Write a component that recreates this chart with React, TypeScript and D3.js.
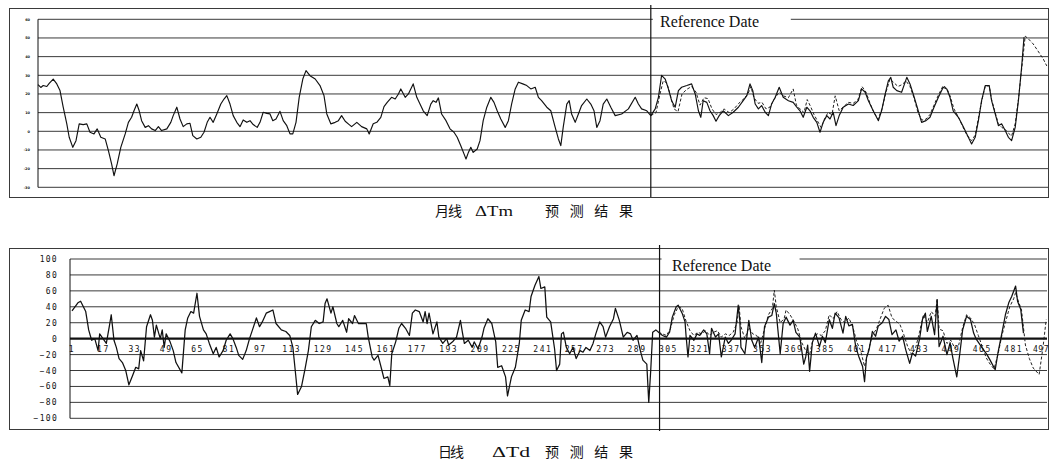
import React from "react";
import * as d3 from "d3";

// ---------- Monthly (ΔTm) ----------
const monthlyTicks = [60, 50, 40, 30, 20, 10, 0, -10, -20, -30];
const monthlyRefIndex = 153.2;
const monthlyActual: [number, number][] = [
  [0, 25], [0.7, 23.5], [1.3, 24.5], [2.2, 24], [2.8, 25.7], [3.8, 28], [4.7, 25.4], [5.5, 21.8], [6.3, 12.9], [7.2, 4],
  [7.8, -3.2], [8.7, -8.6], [9.5, -5], [10.3, 4], [11.3, 3.6], [12.2, 4], [13, -0.5], [14, -1.4], [14.8, 1.3], [15.7, -3.2],
  [16.8, -4.1], [17.6, -10.4], [18.4, -17.5], [19, -23.8], [19.8, -17.5], [20.7, -8.6], [21.8, -1.4], [22.6, 4.8], [23.4, 7.5], [24, 11],
  [24.7, 14.6], [25.3, 11], [25.9, 5.7], [26.8, 2.1], [27.6, 3], [28.4, 1.3], [29.3, 0.4], [30.1, 2.5], [30.9, 0.4], [32.2, 1.3],
  [33.2, 4.8], [33.8, 8.4], [34.7, 12.9], [35.5, 6.6], [36.3, 2.5], [37.2, 4], [38, 4.3], [38.7, -2.3], [39.7, -4.1], [40.7, -3.2],
  [41.5, -0.5], [42.3, 4.8], [43, 7.5], [43.8, 4.8], [44.7, 9.3], [45.7, 14.6], [46.5, 17.3], [47.2, 19.1], [48, 14.6], [48.8, 8.4],
  [49.7, 4.8], [50.5, 2.5], [51.3, 6.1], [52.2, 4.8], [53, 5.7], [53.8, 3.6], [54.8, 2.1], [55.5, 4.8], [56.3, 10.2], [57.2, 9.6],
  [58, 9.3], [58.7, 5.7], [59.5, 6.6], [60.5, 10.7], [61.3, 5.7], [62.2, 3], [63, -1.4], [63.7, -1.4], [64.5, 4.8], [65.3, 18.2],
  [66.2, 28], [67, 32.5], [68, 29.8], [69.3, 28], [70.5, 24.5], [71.5, 19.1], [72.2, 9.3], [73.2, 4], [74.3, 4.8], [75.1, 5.7],
  [75.9, 8.4], [76.8, 5.4], [77.8, 3.6], [78.4, 2.5], [79.7, 4.8], [80.9, 2.5], [82.2, 1.3], [82.8, -1.4], [83.8, 4], [84.7, 4.8],
  [85.7, 7.5], [86.5, 13.2], [87.3, 15.5], [88.4, 18.2], [89.3, 17.3], [90.1, 20], [90.7, 22.7], [91.8, 18.2], [92.6, 20], [93.2, 22.7],
  [93.8, 25.4], [94.7, 18.2], [95.5, 14.6], [96.3, 11], [97.3, 8.4], [98.2, 14.6], [98.8, 16.4], [99.5, 15.5], [100.1, 17.9], [100.9, 9.3],
  [102, 5.7], [103, 1.3], [104, -0.5], [104.8, -3.2], [105.7, -7.7], [106.5, -12.1], [107, -14.8], [107.6, -11.3], [108.2, -8.6], [108.8, -11.3],
  [109.8, -9.5], [110.5, -5], [111.3, 5.7], [112.2, 12.9], [113.2, 18.2], [114, 15.5], [114.8, 11], [115.7, 6.6], [116.8, 2.1], [117.6, 5.7],
  [118.4, 14.6], [119.3, 22.7], [120.1, 26.3], [121.2, 25.4], [122.2, 24.5], [123.2, 22.7], [124.3, 23.6], [125.1, 18.2], [125.9, 16.4], [127.2, 12.9],
  [128.2, 11], [129.3, 2.1], [130.1, -4.1], [130.7, -7.7], [131.3, 2.1], [132.2, 14.6], [132.8, 16.4], [133.4, 9.3], [134.3, 4.8], [135.1, 9.3],
  [135.9, 13.8], [137.2, 17.3], [138.2, 14.6], [139, 11], [139.7, 2.1], [140.5, 5.7], [141.3, 14.6], [142.2, 17.3], [143.2, 12.9], [144.3, 8.4],
  [145.9, 9.3], [147.6, 12], [149.3, 18.2], [150.1, 14.6], [150.9, 12], [152.2, 11], [153.2, 8.4],
  [154.3, 12], [155.1, 18.2], [155.9, 30], [156.8, 28], [157.6, 22.7], [158.4, 16.4], [159.3, 12.9], [160.1, 21.8], [160.9, 23.6], [162.2, 24.5],
  [163.4, 25.4], [164.3, 20], [165.1, 11], [165.7, 7.5], [166.3, 16.4], [167.2, 15.5], [168, 11], [168.8, 8.4], [169.5, 5.4], [170.3, 8.4],
  [171.3, 11], [172.6, 8.4], [173.8, 10.2], [175.1, 12.9], [176.3, 16.4], [177.2, 19.1], [178, 25.4], [178.7, 21.8], [179.3, 14.6], [180.1, 12],
  [180.9, 13.8], [181.8, 10.2], [182.6, 8.4], [183.4, 14.6], [184.3, 18.2], [185.3, 23.6], [186.3, 18.2], [187.6, 16.4], [188.8, 15.5], [189.7, 12.9],
  [190.5, 11], [191.3, 7.5], [192.2, 12.9], [193, 11], [193.8, 7.5], [194.7, 4.8], [195.5, -0.5], [196.3, 4.8], [197.2, 8.4], [198, 6.6],
  [198.8, 10.2], [199.5, 3], [200.3, 8.4], [201.3, 12.9], [202.6, 14.6], [203.8, 13.8], [205.1, 16.4], [205.9, 22.7], [206.8, 20.9], [207.6, 16.4],
  [208.8, 11], [210.1, 5.7], [210.9, 11], [211.8, 20], [212.6, 27.1], [213.2, 28.9], [213.8, 23.6], [214.7, 21.8], [215.9, 20.9], [217.2, 28.9],
  [218, 25.4], [218.8, 20], [219.8, 12.9], [220.9, 4.8], [222, 5.7], [223, 7.5], [224, 12.9], [225.1, 18.2], [226.3, 23.6], [227.2, 22.7],
  [228, 18.2], [228.8, 11], [230.1, 7.5], [231.2, 3], [232.2, -1.4], [233.4, -6.8], [234.3, -3.2], [235.1, 5.7], [235.9, 16.4], [236.8, 24.5],
  [237.8, 24.5], [238.4, 16.4], [239.3, 9.3], [240.1, 3], [240.9, 4], [241.8, 0.4], [242.6, -3.2], [243.4, -5], [244.3, 2.1], [245.1, 16.4],
  [245.9, 34.3], [246.5, 50.4],
];
const monthlyForecast: [number, number][] = [
  [153.2, 8.4], [154.5, 10], [155.5, 20], [156.3, 27], [157.2, 26], [158, 20], [159, 12], [160, 10.5], [161, 20], [162.2, 22.5],
  [163.4, 24], [164.5, 21], [165.5, 14], [166.5, 18], [167.5, 17.5], [168.5, 12], [169.5, 9], [170.5, 10], [171.5, 12], [172.8, 10],
  [174, 12], [175.2, 15], [176.5, 17.5], [177.5, 20], [178.2, 24], [179, 18], [180, 15], [181, 15.5], [182, 12], [183, 13],
  [184, 17], [185.3, 21], [186.3, 19], [187.6, 18], [188.8, 22.7], [189.6, 14], [190.5, 12], [191.5, 10], [192.3, 17], [193.2, 13],
  [194, 9], [195, 5], [195.8, 2], [196.7, 7], [197.5, 10], [198.5, 9], [199.3, 19], [200.3, 11], [201.3, 13], [202.6, 15.5],
  [203.8, 15], [205, 17], [206, 24], [207, 21], [208, 15], [209, 10], [210, 6.5], [211, 12], [212, 21], [213, 28],
  [214, 26], [215, 24], [216, 25], [217, 27], [218, 24], [219, 18], [220, 10], [221, 6], [222, 6.5], [223, 9],
  [224, 14], [225, 19], [226.3, 24.5], [227.2, 23], [228, 19], [229, 12], [230, 8], [231.2, 2.5], [232.2, -2], [233.4, -5],
  [234.3, -2], [235.1, 7], [236, 17], [236.8, 24], [237.8, 24.5], [238.4, 17], [239.3, 10], [240.1, 4], [241, 2], [241.8, 1],
  [242.6, -1], [243.4, -2.5], [244.3, 4], [245.1, 17], [246, 35], [246.8, 51], [247.6, 49.5], [248.8, 46.8], [250, 43], [251.3, 38.8],
  [252.2, 35],
];

// ---------- Daily (ΔTd) ----------
const dailyTicks = [100, 80, 60, 40, 20, 0, -20, -40, -60, -80, -100];
const dailyXLabels = [1, 17, 33, 49, 65, 81, 97, 113, 129, 145, 161, 177, 193, 209, 225, 241, 257, 273, 289, 305, 321, 337, 353, 369, 385, 401, 417, 433, 449, 465, 481, 497];
const dailyRefIndex = 300.5;
const dailyActual: [number, number][] = [
  [1, 35], [4, 45], [5.4, 47], [8, 34], [9.5, 11], [11, -2], [12.6, 0], [14.3, -15], [15.1, 6], [16.8, 0],
  [18.5, -6], [20, 15], [21, 30], [22.4, -2], [23.6, -11], [25, -25], [26.7, -30], [28.4, -40], [30, -58], [31.8, -47],
  [33.5, -36], [35, -38], [36, -15], [37.5, -28], [39, 15], [41, 30], [42, 23], [43, 2], [44, 17], [46, 0],
  [47, 11], [48, -11], [49, 6], [51, -4], [52.6, -15], [54, -30], [57, -43], [58.7, 11], [60, 26], [61.6, 34],
  [63, 32], [64.7, 57], [66, 28], [68, 11], [69.4, 6], [71, -6], [73, -19], [74.5, -11], [76, -23], [78, -15],
  [79.6, -2], [81.6, 6], [83, 0], [84.7, -11], [86, -21], [88, -26], [89.8, -15], [91.5, 0], [93, 11], [95, 26],
  [96.6, 15], [98, 21], [100, 32], [101.7, 34], [103.4, 36], [105, 19], [107.7, 11], [110, 9], [112, 4], [113.6, -11],
  [115, -45], [116, -70], [118, -60], [119.8, -38], [121.5, -15], [123, 15], [125, 23], [127, 19], [129, 21], [130, 44],
  [131, 50], [133, 32], [134, 40], [136, 19], [137, 15], [139, 23], [141, 8], [142, 25], [144, 19], [145, 29],
  [147, 19], [151, 19], [152, 2], [154, -23], [155, -27], [157, -21], [159, -40], [160, -50], [162, -48], [163, -59],
  [164, -19], [166, -4], [167.6, 13], [169, 19], [171, 13], [173, 4], [174.5, 32], [176, 36], [178, 34], [180, 21],
  [181, 34], [182, 19], [183, 32], [185, 6], [187, 21], [188, 2], [190, -6], [192, 0], [193, -8], [195, -4],
  [197, 2], [199, 23], [200, 8], [201, -6], [203, -2], [205, -11], [206, -4], [208, -13], [210, 2], [211, 13],
  [213, 25], [215, 19], [217, -4], [218, -36], [220, -34], [222, -48], [223, -72], [225, -48], [227, -36], [229, -6],
  [230, 23], [232, 36], [234, 34], [235, 53], [237, 67], [239, 78], [240, 63], [242, 65], [243, 27], [245, 21],
  [247, -13], [248, -40], [249.6, -32], [250.5, 6], [251.5, 8], [253, -11], [254.7, -19], [256.4, -11], [258, -25], [260, -15],
  [261.5, -17], [263, -11], [265, -15], [266.6, -6], [268, 6], [270, 21], [271.7, 15], [273, 2], [275, 15], [277, 25],
  [278, 38], [280, 23], [282, 2], [284, 8], [285.7, 6], [287, -2], [289, 4], [290.7, -15], [292, -27], [294, -32],
  [295, -80], [296, -40], [297, 8], [298.6, 11], [300, 8], [302, 4], [304, 2], [305.6, 8], [307, 27], [309, 40],
  [310, 42], [312, 32], [313.5, 21], [314, 4], [315, -23], [316, 4], [318, -2], [319.6, 6], [321, 4], [323, 11],
  [324.6, 6], [326, -19], [327, 13], [329, 2], [330.6, 6], [332, -23], [334, 2], [335.6, -6], [337, -2], [339, 6],
  [340.6, 42], [341.4, 23], [342, -11], [344, -19], [346, 23], [347.5, -2], [349, -11], [351, 2], [352.6, -30], [354, 15],
  [356, 27], [357.7, 29], [359, 44], [360, 32], [362, -19], [363.5, 19], [365, 27], [367, 17], [368.6, 23], [370, 8],
  [372, 2], [374, -32], [375, -23], [376, -8], [377, -41], [378.4, -5], [380, 7], [382, -10], [383.5, 3], [385, -5],
  [387, 24], [388.6, 13], [390, 32], [392, 26], [394, 7], [395.4, 28], [397, 16], [398.8, 18], [400.5, -10], [402, -22],
  [404, -35], [405, -54], [406, -24], [407.3, -14], [409, 9], [410.6, 3], [412, 16], [414, 20], [415.7, 28], [417.4, 24],
  [419, 5], [421, 11], [422.6, -3], [424.4, 3], [426, -14], [428, -31], [429.4, -18], [431, -22], [433, -1], [434.5, 24],
  [436, 32], [437, 9], [439, 28], [440.7, 5], [442, 49], [443, -10], [445, 3], [447, -20], [448.6, -5], [450, -24],
  [452, -48], [453.6, -18], [455, 11], [457, 28], [459, 24], [460.6, 7], [462, -1], [464, -8], [465.7, -14], [467.4, -20],
  [469, -27], [471.6, -39], [473, -18], [475, 7], [476.8, 30], [478.5, 45], [480, 53], [482, 66], [483, 47], [484.6, 37],
  [486, 7],
];
const dailyForecast: [number, number][] = [
  [300, 8], [302, 6], [304, 4], [306, 12], [308, 30], [310, 40], [312, 38], [314, 22], [316, 10], [318, 4],
  [320, 8], [322, 6], [324, 10], [326, 4], [328, 8], [330, 10], [332, 2], [334, 6], [336, 4], [338, 8],
  [340, 20], [341, 42], [342, 15], [344, 0], [346, 14], [348, 6], [350, 4], [352, -6], [354, 12], [356, 30],
  [358, 38], [359, 61], [360, 40], [362, 20], [364, 25], [365, 36], [367, 30], [369, 22], [371, 12], [373, -5],
  [375, -15], [377, -20], [379, 2], [381, 6], [383, 4], [385, 10], [387, 30], [389, 25], [391, 34], [393, 24],
  [395, 20], [397, 26], [399, 15], [401, -4], [403, -15], [405, -35], [407, -14], [409, 4], [411, 12], [413, 25],
  [415, 38], [417, 42], [419, 26], [421, 22], [423, 18], [425, 5], [427, -10], [429, -20], [431, -12], [433, 8],
  [435, 30], [437, 20], [439, 34], [441, 28], [442, 50], [443, 12], [445, 10], [447, -6], [449, -2], [451, -12],
  [453, -8], [455, 14], [457, 30], [459, 26], [461, 18], [463, 4], [465, -10], [467, -24], [469, -32], [471, -38],
  [473, -20], [475, 4], [477, 22], [479, 40], [481, 50], [482, 58], [483, 50], [485, 36], [487, -8], [489, -25],
  [491, -37], [494, -45], [496, -10], [497.6, 24],
];

const INK = "#111";
const GRID = "#3a3a3a";

export default function App() {
  const W = 1050;
  const H = 467;

  const xM = d3.scaleLinear().domain([0, 252.5]).range([38, 1048]);
  const yM = d3.scaleLinear().domain([-30, 60]).range([187.3, 19.3]);
  const xD = d3.scaleLinear().domain([1, 498]).range([72, 1047]);
  const yD = d3.scaleLinear().domain([-100, 100]).range([418.3, 259]);

  const lineM = d3.line<[number, number]>().x((d) => xM(d[0])).y((d) => yM(d[1]));
  const lineD = d3.line<[number, number]>().x((d) => xD(d[0])).y((d) => yD(d[1]));

  const refXM = xM(monthlyRefIndex);
  const refXD = xD(dailyRefIndex);
  const lastLabel = dailyXLabels[dailyXLabels.length - 1];

  return (
    <svg
      width={W}
      height={H}
      viewBox={`0 0 ${W} ${H}`}
      style={{ position: "absolute", left: 0, top: 0, display: "block", background: "#fff" }}
    >
      <rect x={0} y={0} width={W} height={H} fill="#fff" />

      {/* ===== Monthly chart ===== */}
      <rect x={9.5} y={8.5} width={1039} height={189} fill="none" stroke={GRID} strokeWidth={1} />
      {monthlyTicks.map((t) => (
        <g key={"mg" + t}>
          <line x1={38} x2={1048} y1={yM(t)} y2={yM(t)} stroke={GRID} strokeWidth={1} />
          <text x={30} y={yM(t) + 1.2} fontSize={3.5} fontWeight="bold" textAnchor="end" fill={INK} fontFamily="DejaVu Sans">
            {t}
          </text>
        </g>
      ))}
      <line x1={38} x2={38} y1={yM(60)} y2={yM(-30)} stroke={INK} strokeWidth={1} />
      <rect x={refXM + 2} y={10} width={138} height={22} fill="#fff" />
      <line x1={refXM} x2={refXM} y1={5} y2={197} stroke={INK} strokeWidth={1.2} />
      <text x={660} y={27} fontSize={16} fontFamily="Liberation Serif, serif" fill={INK}>
        Reference Date
      </text>
      <path d={lineM(monthlyForecast) || ""} fill="none" stroke="#222" strokeWidth={1} strokeDasharray="3,2" />
      <path d={lineM(monthlyActual) || ""} fill="none" stroke={INK} strokeWidth={1.15} strokeLinejoin="round" />

      {/* caption 1 */}
      <g fontFamily="Noto Sans CJK SC" fontSize={14} fill={INK}>
        <text x={435} y={216} textLength={27} lengthAdjust="spacing">月线</text>
        <text x={475} y={216} textLength={38} lengthAdjust="spacingAndGlyphs" fontFamily="Liberation Serif, serif" fontSize={15}>
          ΔTm
        </text>
        <text x={545} y={216} textLength={88} lengthAdjust="spacing">预测结果</text>
      </g>

      {/* ===== Daily chart ===== */}
      <rect x={9.5} y={248.5} width={1039} height={181} fill="none" stroke={GRID} strokeWidth={1} />
      {dailyTicks.map((t) => (
        <g key={"dg" + t}>
          <line
            x1={70}
            x2={1047}
            y1={yD(t)}
            y2={yD(t)}
            stroke={t === 0 ? INK : GRID}
            strokeWidth={t === 0 ? 2.2 : 1}
          />
          <text
            x={58}
            y={yD(t) + 3}
            fontSize={8}
            letterSpacing={1.3}
            textAnchor="end"
            fill={INK}
            fontFamily="DejaVu Sans Mono, monospace"
          >
            {t < 0 ? "−" + Math.abs(t) : t}
          </text>
        </g>
      ))}
      <line x1={70} x2={70} y1={yD(100)} y2={yD(-100)} stroke={INK} strokeWidth={1} />
      {dailyXLabels.map((l) => (
        <text
          key={"xl" + l}
          x={l === lastLabel ? 1049 : xD(l)}
          y={352}
          fontSize={8}
          letterSpacing={l === lastLabel ? 0.5 : 1.5}
          textAnchor={l === lastLabel ? "end" : "middle"}
          fill={INK}
          fontFamily="DejaVu Sans Mono, monospace"
        >
          {l}
        </text>
      ))}
      <rect x={refXD + 2} y={251} width={138} height={22} fill="#fff" />
      <line x1={refXD} x2={refXD} y1={245} y2={431} stroke={INK} strokeWidth={1.2} />
      <text x={672} y={271} fontSize={16} fontFamily="Liberation Serif, serif" fill={INK}>
        Reference Date
      </text>
      <path d={lineD(dailyForecast) || ""} fill="none" stroke="#222" strokeWidth={1} strokeDasharray="3,2" />
      <path d={lineD(dailyActual) || ""} fill="none" stroke={INK} strokeWidth={1.25} strokeLinejoin="round" />

      {/* caption 2 */}
      <g fontFamily="Noto Sans CJK SC" fontSize={14} fill={INK}>
        <text x={438} y={457} textLength={26} lengthAdjust="spacing">日线</text>
        <text x={492} y={457} textLength={38} lengthAdjust="spacingAndGlyphs" fontFamily="Liberation Serif, serif" fontSize={15}>
          ΔTd
        </text>
        <text x={545} y={457} textLength={88} lengthAdjust="spacing">预测结果</text>
      </g>
    </svg>
  );
}
